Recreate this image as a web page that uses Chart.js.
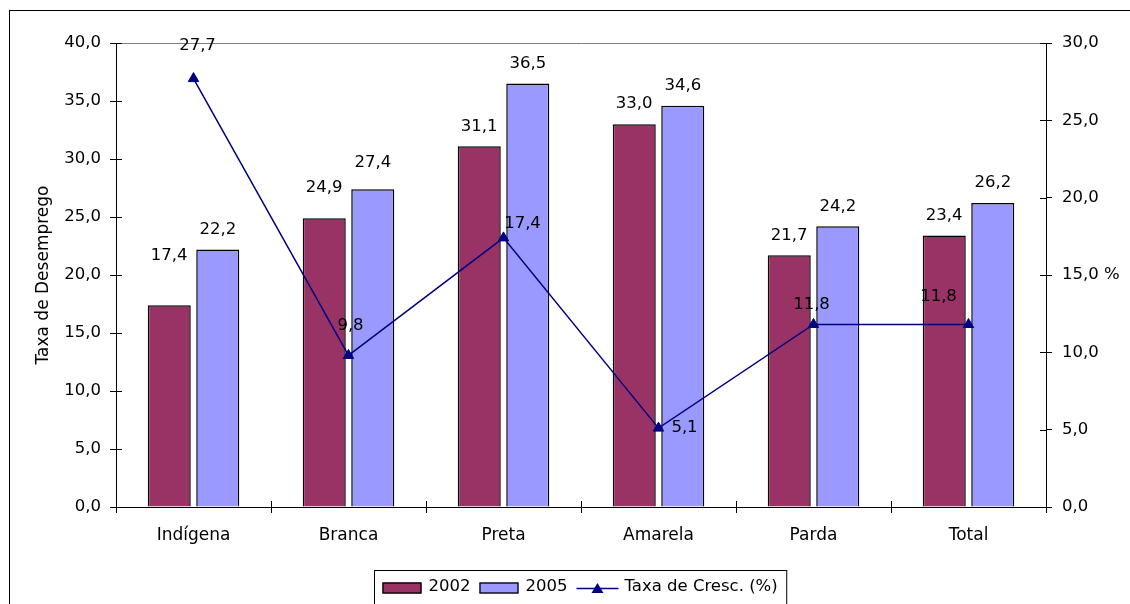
<!DOCTYPE html>
<html><head><meta charset="utf-8">
<style>html,body{margin:0;padding:0;background:#fff;overflow:hidden}#wrap{width:1130px;height:604px;position:relative}</style>
<script src="https://cdn.jsdelivr.net/npm/chart.js@4.4.1/dist/chart.umd.min.js"></script>
</head><body><div id="wrap"><canvas id="c" width="1130" height="604"></canvas></div>
<script>
// ---- data ----
const categories = ['Indígena', 'Branca', 'Preta', 'Amarela', 'Parda', 'Total'];
const values2002 = [17.4, 24.9, 31.1, 33.0, 21.7, 23.4];
const values2005 = [22.2, 27.4, 36.5, 34.6, 24.2, 26.2];
const growthRate = [27.7, 9.8, 17.4, 5.1, 11.8, 11.8];
const seriesNames = ['2002', '2005', 'Taxa de Cresc. (%)'];
const leftAxisTitle = 'Taxa de Desemprego';
const rightAxisTitle = '%';

// ---- styling (label placement nudges, px) ----
const barLabelNudge = [[-29, -10, 0, 0, 0, 0], [0, -6, 0, 0, 0, 0]];
const lineLabelOffset = [[4, -33], [2, -30], [19, -14], [26, 0], [-2, -20], [-30, -28]];

const FAMILY = 'DejaVu Sans';
const FS = 16.5;
const fmt = v => Number(v).toFixed(1).replace('.', ',');
Chart.defaults.font.family = FAMILY;
Chart.defaults.font.size = FS;
Chart.defaults.color = '#000';

const decor = {
  id: 'decor',
  beforeDraw(chart) {
    const c = chart.ctx;
    c.save(); c.fillStyle = '#fff'; c.fillRect(0, 0, chart.width, chart.height); c.restore();
  },
  afterDraw(chart) {
    const c = chart.ctx;
    const {x, y, y1} = chart.scales;
    const area = chart.chartArea;
    c.save();
    // outer frame
    c.strokeStyle = '#000'; c.lineWidth = 1;
    c.strokeRect(9.5, 10.5, chart.width + 20, chart.height + 40);
    // inner halves of tick marks
    c.beginPath();
    y.ticks.forEach(t => { const p = Math.round(y.getPixelForValue(t.value)) + 0.5; c.moveTo(area.left, p); c.lineTo(area.left + 6, p); });
    y1.ticks.forEach(t => { const p = Math.round(y1.getPixelForValue(t.value)) + 0.5; c.moveTo(area.right - 6, p); c.lineTo(area.right, p); });
    const cw = x.getPixelForValue(1) - x.getPixelForValue(0);
    for (let i = 0; i <= categories.length; i++) {
      const p = Math.round(x.getPixelForValue(i) - cw / 2) + 0.5;
      c.moveTo(p, area.bottom - 6); c.lineTo(p, area.bottom);
    }
    c.stroke();
    // value labels
    c.fillStyle = '#000';
    c.font = FS + 'px "' + FAMILY + '"';
    c.textAlign = 'center'; c.textBaseline = 'middle';
    [0, 1].forEach(di => {
      const meta = chart.getDatasetMeta(di);
      meta.data.forEach((el, i) => {
        c.fillText(fmt(chart.data.datasets[di].data[i]), el.x, el.y - 20 + barLabelNudge[di][i]);
      });
    });
    const lm = chart.getDatasetMeta(2);
    lm.data.forEach((el, i) => {
      c.fillText(fmt(chart.data.datasets[2].data[i]), el.x + lineLabelOffset[i][0], el.y + lineLabelOffset[i][1]);
    });
    // right axis title (horizontal)
    c.textAlign = 'left';
    c.fillText(rightAxisTitle, 1104, y1.getPixelForValue(15));
    // legend
    const ds = chart.data.datasets;
    const w = seriesNames.map(s => c.measureText(s).width);
    const boxW = 39, lineW = 42;
    const total = 8 + boxW + 7 + w[0] + 9 + boxW + 7 + w[1] + 9 + lineW + 6 + w[2] + 9;
    let lx = Math.round(580.5 - total / 2) + 0.5;
    const top = 570.5, cy = 588;
    c.strokeStyle = '#000';
    c.strokeRect(lx, top, total, 60);
    let px = lx + 8;
    [0, 1].forEach(k => {
      c.fillStyle = ds[k].backgroundColor;
      c.fillRect(px, cy - 5.5, boxW, 11);
      c.strokeStyle = '#000'; c.lineWidth = 1.3;
      c.strokeRect(px + 0.5, cy - 5, boxW - 1, 10);
      px += boxW + 7;
      c.fillStyle = '#000';
      c.fillText(seriesNames[k], px, cy - 1);
      px += w[k] + 9;
    });
    c.strokeStyle = ds[2].borderColor; c.lineWidth = 1.5;
    c.beginPath(); c.moveTo(px, cy + 0.5); c.lineTo(px + lineW, cy + 0.5); c.stroke();
    const tx = px + lineW / 2;
    c.fillStyle = ds[2].borderColor;
    c.beginPath(); c.moveTo(tx, cy - 5); c.lineTo(tx + 6, cy + 5); c.lineTo(tx - 6, cy + 5); c.closePath(); c.fill();
    px += lineW + 6;
    c.fillStyle = '#000';
    c.fillText(seriesNames[2], px, cy - 1);
    c.restore();
  }
};

new Chart(document.getElementById('c'), {
  type: 'bar',
  data: {
    labels: categories,
    datasets: [
      { type: 'bar', label: seriesNames[0], data: values2002, backgroundColor: '#993366', borderColor: '#000', borderWidth: 1.5, yAxisID: 'y', order: 1,
        categoryPercentage: 0.626, barPercentage: 0.887 },
      { type: 'bar', label: seriesNames[1], data: values2005, backgroundColor: '#9999FF', borderColor: '#000', borderWidth: 1.5, yAxisID: 'y', order: 1,
        categoryPercentage: 0.626, barPercentage: 0.887 },
      { type: 'line', label: seriesNames[2], data: growthRate, yAxisID: 'y1', order: 0,
        borderColor: '#000080', borderWidth: 1.5, backgroundColor: '#000080',
        pointStyle: 'triangle', pointRadius: 6, pointBackgroundColor: '#000080', pointBorderColor: '#000080', pointBorderWidth: 1,
        tension: 0, fill: false }
    ]
  },
  options: {
    responsive: false, animation: false, devicePixelRatio: 1,
    layout: { padding: { top: 43, left: 0, right: 0, bottom: 0 } },
    plugins: { legend: { display: false }, tooltip: { enabled: false } },
    scales: {
      x: {
        offset: true,
        grid: { offset: true, drawOnChartArea: false, color: '#000', tickLength: 6 },
        border: { color: '#000', width: 1 },
        ticks: { color: '#000', font: { family: FAMILY, size: 17 }, padding: 12, maxRotation: 0 },
        afterFit: s => { s.height = 97; }
      },
      y: {
        position: 'left', min: 0, max: 40,
        ticks: { stepSize: 5, callback: v => fmt(v), color: '#000', padding: 9 },
        grid: { drawOnChartArea: true, color: ctx => (ctx.tick && ctx.tick.value === 40) ? '#808080' : 'rgba(0,0,0,0)', tickColor: '#000', tickLength: 6 },
        border: { color: '#000', width: 1 },
        title: { display: true, text: leftAxisTitle, color: '#000', font: { family: FAMILY, size: 17 }, padding: { top: 33, bottom: 0 } },
        afterFit: s => { s.width = 116; }
      },
      y1: {
        position: 'right', min: 0, max: 30,
        ticks: { stepSize: 5, callback: v => fmt(v), color: '#000', padding: 10 },
        grid: { drawOnChartArea: false, color: '#000', tickLength: 6 },
        border: { color: '#000', width: 1 },
        afterFit: s => { s.width = 84; }
      }
    }
  },
  plugins: [decor]
});
</script></body></html>
